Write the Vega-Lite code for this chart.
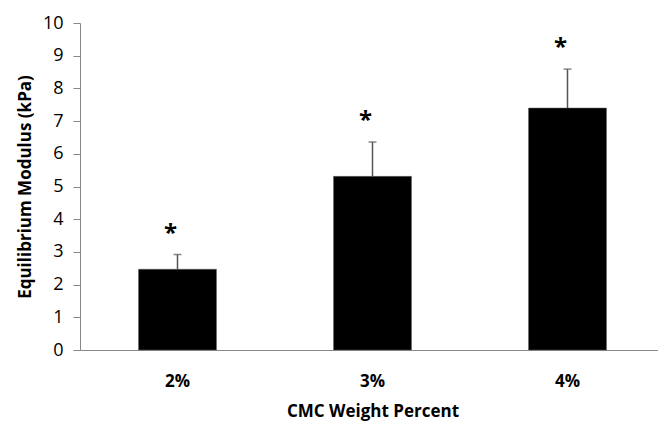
{
  "$schema": "https://vega.github.io/schema/vega-lite/v6.json",
  "width": 578,
  "height": 327,
  "autosize": {"type": "none"},
  "padding": {"left": 80, "top": 23, "right": 0, "bottom": 71},
  "background": "white",
  "config": {
    "view": {"stroke": null},
    "font": "Open Sans",
    "axisY": {
      "labelFontSize": 18,
      "labelOverlap": false
    }
  },
  "data": {
    "values": [
      {"cmc": "2%", "modulus": 2.47, "upper": 2.92},
      {"cmc": "3%", "modulus": 5.31, "upper": 6.36},
      {"cmc": "4%", "modulus": 7.40, "upper": 8.59}
    ]
  },
  "encoding": {
    "x": {
      "field": "cmc",
      "type": "nominal",
      "sort": null,
      "scale": {"range": [0, 585], "paddingInner": 0.6, "paddingOuter": 0.3},
      "axis": {
        "title": "CMC Weight Percent",
        "labelAngle": 0,
        "ticks": false,
        "labelFont": "Open Sans",
        "labelFontSize": 17,
        "labelFontWeight": "bold",
        "labelColor": "black",
        "labelPadding": 23,
        "labelBaseline": "top",
        "titleFont": "Open Sans",
        "titleFontSize": 17,
        "titleFontWeight": "bold",
        "titleColor": "black",
        "titlePadding": 14,
        "domainColor": "#888888",
        "domainWidth": 1
      }
    }
  },
  "layer": [
    {
      "mark": {"type": "bar", "color": "black", "stroke": "#666666", "strokeWidth": 0.5},
      "encoding": {
        "y": {
          "field": "modulus",
          "type": "quantitative",
          "scale": {"domain": [0, 10], "nice": false},
          "axis": {
            "title": "Equilibrium Modulus (kPa)",
            "values": [0, 1, 2, 3, 4, 5, 6, 7, 8, 9, 10],
            "labelOverlap": false,
            "grid": false,
            "tickSize": 7,
            "tickColor": "#888888",
            "domainColor": "#888888",
            "labelFont": "Open Sans",
            "labelFontSize": 18,
            "labelColor": "black",
            "labelPadding": 10,
            "titleFont": "Open Sans",
            "titleFontSize": 17,
            "titleFontWeight": "bold",
            "titleColor": "black",
            "titlePadding": 8
          }
        }
      }
    },
    {
      "mark": {"type": "rule", "color": "#555555", "strokeWidth": 1.5},
      "encoding": {
        "y": {
          "field": "modulus",
          "type": "quantitative",
          "scale": {"domain": [0, 10], "nice": false},
          "axis": {
            "title": "Equilibrium Modulus (kPa)",
            "values": [0, 1, 2, 3, 4, 5, 6, 7, 8, 9, 10],
            "labelOverlap": false,
            "grid": false,
            "tickSize": 7,
            "tickColor": "#888888",
            "domainColor": "#888888",
            "labelFont": "Open Sans",
            "labelFontSize": 18,
            "labelColor": "black",
            "labelPadding": 10,
            "titleFont": "Open Sans",
            "titleFontSize": 17,
            "titleFontWeight": "bold",
            "titleColor": "black",
            "titlePadding": 8
          }
        },
        "y2": {"field": "upper"}
      }
    },
    {
      "mark": {"type": "tick", "color": "#555555", "size": 8, "thickness": 1.5},
      "encoding": {
        "y": {
          "field": "upper",
          "type": "quantitative",
          "scale": {"domain": [0, 10], "nice": false},
          "axis": {
            "title": "Equilibrium Modulus (kPa)",
            "values": [0, 1, 2, 3, 4, 5, 6, 7, 8, 9, 10],
            "labelOverlap": false,
            "grid": false,
            "tickSize": 7,
            "tickColor": "#888888",
            "domainColor": "#888888",
            "labelFont": "Open Sans",
            "labelFontSize": 18,
            "labelColor": "black",
            "labelPadding": 10,
            "titleFont": "Open Sans",
            "titleFontSize": 17,
            "titleFontWeight": "bold",
            "titleColor": "black",
            "titlePadding": 8
          }
        }
      }
    },
    {
      "mark": {"type": "text", "text": "*", "font": "Open Sans", "fontSize": 24, "fontWeight": "bold", "color": "black", "baseline": "alphabetic", "dy": -14, "dx": -7},
      "encoding": {
        "y": {
          "field": "upper",
          "type": "quantitative",
          "scale": {"domain": [0, 10], "nice": false},
          "axis": {
            "title": "Equilibrium Modulus (kPa)",
            "values": [0, 1, 2, 3, 4, 5, 6, 7, 8, 9, 10],
            "labelOverlap": false,
            "grid": false,
            "tickSize": 7,
            "tickColor": "#888888",
            "domainColor": "#888888",
            "labelFont": "Open Sans",
            "labelFontSize": 18,
            "labelColor": "black",
            "labelPadding": 10,
            "titleFont": "Open Sans",
            "titleFontSize": 17,
            "titleFontWeight": "bold",
            "titleColor": "black",
            "titlePadding": 8
          }
        }
      }
    }
  ]
}
